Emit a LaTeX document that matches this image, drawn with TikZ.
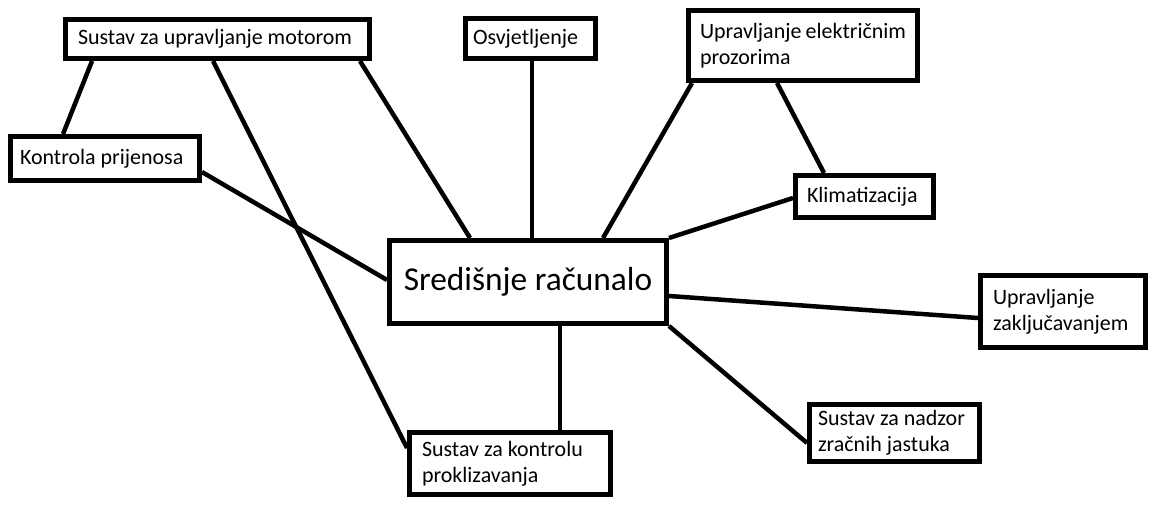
\documentclass[tikz,border=0pt]{standalone}
\usepackage{fontspec}
\setmainfont{Carlito}
\usetikzlibrary{calc}
\tikzstyle{block}=[draw,fill=white,rectangle,line width=0.1cm,align=flush left]
\tikzstyle{link}=[line width=0.09cm]
\tikzstyle{every node}=[font=\fontsize{12.5}{15}\selectfont]

\begin{document}
\begin{tikzpicture}[x=0.02cm,y=-0.02cm]
  \fill[white] (0,0) rectangle (1150,506);
  \useasboundingbox (0,0) rectangle (1150,506);
  \node[block, text width=5.58cm, inner xsep=.25cm, minimum height=.78cm] (motor) at (217.5,39) {Sustav za upravljanje motorom};
  \node[block, text width=2.3cm, inner xsep=.15cm, minimum height=.8cm] (osvj) at (530.5,38.5) {Osvjetljenje};
  \node[block, text width=4.12cm, inner xsep=.23cm, minimum height=1.4cm] (prozor) at (803,45.5) {Upravljanje~električnim\\prozorima};
  \node[block, text width=3.4cm, inner xsep=.19cm, minimum height=.88cm] (kontrola) at (105,158.5) {Kontrola prijenosa};
  \node[block, text width=2.3cm, inner xsep=.23cm, minimum height=.84cm] (klima) at (864.5,196.5) {Klimatizacija};
  \node[block, align=center, minimum width=5.54cm, minimum height=1.66cm, font=\fontsize{19}{23}\selectfont] (central) at (528,282) {Središnje računalo};
  \node[block, text width=2.8cm, inner xsep=.25cm, minimum height=1.44cm] (zaklj) at (1063,311.5) {Upravljanje\\zaključavanjem};
  \node[block, text width=3.06cm, inner xsep=.17cm, minimum height=1.1cm] (zracni) at (894.5,433) {Sustav za nadzor\\zračnih jastuka};
  \node[block, text width=3.52cm, inner xsep=.25cm, minimum height=1.24cm] (prokliz) at (510,463.5) {Sustav za kontrolu\\proklizavanja};
  \draw[link] ($(kontrola.north west)+(55,0)$) -- ($(motor.south west)+(29,0)$);
  \draw[link] ($(motor.south west)+(150,0)$) -- ($(prokliz.north west)+(0,18)$);
  \draw[link] ($(motor.south east)+(-12,0)$) -- ($(central.north west)+(83,0)$);
  \draw[link] ($(osvj.south)+(1.5,0)$) coordinate (o) -- (o |- central.north);
  \draw[link] ($(prozor.south west)+(6,0)$) -- ($(central.north west)+(216,0)$);
  \draw[link] ($(prozor.south west)+(91,0)$) -- ($(klima.north west)+(31,0)$);
  \draw[link] ($(klima.west)+(0,1.5)$) -- (central.north east);
  \draw[link] ($(kontrola.east)+(0,13.5)$) -- ($(central.west)+(0,-2)$);
  \draw[link] ($(central.east)+(0,14)$) -- ($(zaklj.west)+(0,6.5)$);
  \draw[link] (central.south east) -- ($(zracni.west)+(0,10)$);
  \draw[link] ($(central.south west)+(173,0)$) coordinate (p) -- (p |- prokliz.north);
\end{tikzpicture}
\end{document}
